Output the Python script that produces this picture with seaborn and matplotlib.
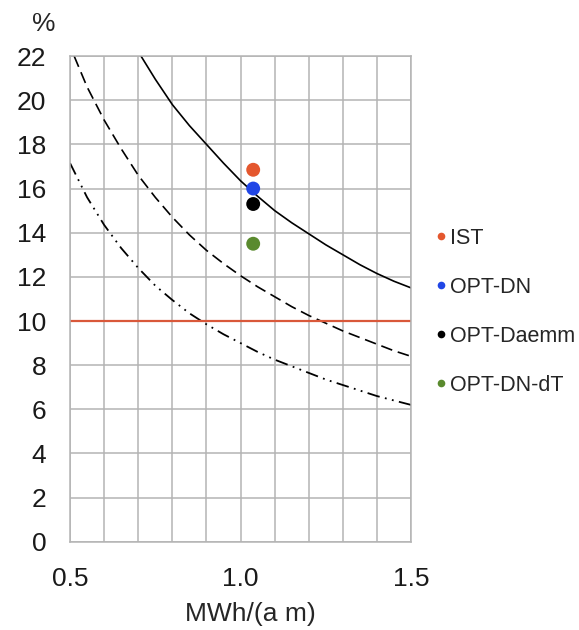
import numpy as np
import pandas as pd
import seaborn as sns
import matplotlib
matplotlib.use('Agg')
import matplotlib.pyplot as plt

# curves
solid_x = [0.708, 0.75, 0.8, 0.85, 0.9, 0.95, 1.0, 1.05, 1.1, 1.15, 1.2, 1.25,
           1.3, 1.35, 1.4, 1.45, 1.5]
solid_y = [22.0, 20.95, 19.8, 18.85, 18.0, 17.15, 16.35, 15.65, 15.0, 14.45,
           13.95, 13.45, 13.0, 12.55, 12.15, 11.8, 11.5]

dash_x = [0.512, 0.55, 0.6, 0.65, 0.7, 0.75, 0.8, 0.85, 0.9, 0.95, 1.0, 1.05,
          1.1, 1.15, 1.2, 1.25, 1.3, 1.35, 1.4, 1.45, 1.5]
dash_y = [22.0, 20.6, 19.1, 17.8, 16.6, 15.6, 14.7, 13.9, 13.2, 12.6, 12.05,
          11.55, 11.1, 10.65, 10.25, 9.9, 9.55, 9.25, 8.95, 8.65, 8.4]

dashdot_x = [0.5, 0.55, 0.6, 0.65, 0.7, 0.75, 0.8, 0.85, 0.9, 0.95, 1.0, 1.05,
             1.1, 1.15, 1.2, 1.25, 1.3, 1.35, 1.4, 1.45, 1.5]
dashdot_y = [17.15, 15.6, 14.35, 13.3, 12.4, 11.6, 10.95, 10.35, 9.85, 9.4,
             9.0, 8.6, 8.25, 7.95, 7.65, 7.35, 7.1, 6.85, 6.6, 6.4, 6.2]

limit_x = [0.5, 1.5]
limit_y = [10.0, 10.0]

# measured variants
labels = ['IST', 'OPT-DN', 'OPT-Daemm', 'OPT-DN-dT']
pt_x = [1.037, 1.037, 1.037, 1.037]
pt_y = [16.85, 16.0, 15.3, 13.5]
colors = ['#e4572e', '#2146e6', '#000000', '#5a8a2e']

sns.set_theme(style='whitegrid')
plt.rcParams['font.family'] = ['Liberation Sans', 'DejaVu Sans']

fig = plt.figure(figsize=(5.79, 6.30), dpi=100)
ax = fig.add_axes([0.121, 0.14, 0.589, 0.771])

sns.lineplot(x=solid_x, y=solid_y, ax=ax, color='black', lw=1.2)
sns.lineplot(x=dash_x, y=dash_y, ax=ax, color='black', lw=1.2, linestyle=(0, (7, 3.5)))
sns.lineplot(x=dashdot_x, y=dashdot_y, ax=ax, color='black', lw=1.3,
             linestyle=(0, (7, 3, 1, 3, 1, 3)))
sns.lineplot(x=limit_x, y=limit_y, ax=ax, color='#d9583a', lw=1.6)

df = pd.DataFrame({'x': pt_x, 'y': pt_y, 'lab': labels})
sns.scatterplot(data=df, x='x', y='y', hue='lab', palette=colors, s=100,
                edgecolor='none', ax=ax, zorder=5)

ax.set_xlim(0.5, 1.5)
ax.set_ylim(0, 22)
ax.set_xticks(np.arange(0.5, 1.501, 0.1))
ax.set_xticklabels(['0.5', '', '', '', '', '1.0', '', '', '', '', '1.5'])
ax.set_yticks(np.arange(0, 23, 2))
ax.tick_params(labelsize=19, length=4, width=1, color='#b4b4b4', colors='#1a1a1a')
ax.tick_params(axis='y', pad=13)
ax.tick_params(axis='x', pad=14)
ax.grid(True, color='#b4b4b4', lw=1.1)
for s in ax.spines.values():
    s.set_color('#b4b4b4')
    s.set_linewidth(1.1)
ax.set_xlabel('MWh/(a m)', fontsize=19, labelpad=8, x=0.53)
ax.set_ylabel('')
fig.text(0.076, 0.962, '%', fontsize=19, ha='center', va='center')

leg = ax.legend(loc='center left', bbox_to_anchor=(0.75, 0.505),
                bbox_transform=fig.transFigure, frameon=False,
                fontsize=15.5, markerscale=0.55, handlelength=0.6,
                handletextpad=0.15, labelspacing=1.3, borderpad=0,
                borderaxespad=0)

fig.savefig('out.png', dpi=100)
